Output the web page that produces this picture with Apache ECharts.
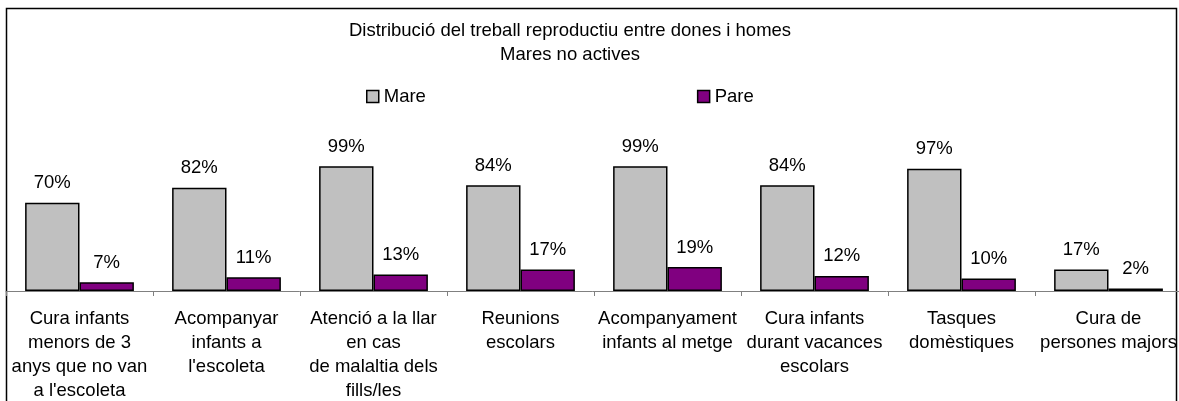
<!DOCTYPE html>
<html>
<head>
<meta charset="utf-8">
<script src="https://cdn.jsdelivr.net/npm/echarts@6/dist/echarts.min.js"></script>
<style>
	html, body { margin: 0; padding: 0; background: #fff; }
	#chart { width: 1179px; height: 401px; }
</style>
</head>
<body>
<div id="chart"></div>
<script>
// dades
var categories = [
	"Cura infants\nmenors de 3\nanys que no van\na l'escoleta",
	"Acompanyar\ninfants a\nl'escoleta",
	"Atenció a la llar\nen cas\nde malaltia dels\nfills/les",
	"Reunions\nescolars",
	"Acompanyament\ninfants al metge",
	"Cura infants\ndurant vacances\nescolars",
	"Tasques\ndomèstiques",
	"Cura de\npersones majors"
];
var mare = [70, 82, 99, 84, 99, 84, 97, 17];
var pare = [7, 11, 13, 17, 19, 12, 10, 2];

var font = "'Liberation Sans', Arial, sans-serif";
var fs = 18.5;

var myChart = echarts.init(document.getElementById("chart"));
var option = {
	animation: false,
	textStyle: { fontFamily: font },
	// títol en dues línies
	title: {
		text: "Distribució del treball reproductiu entre dones i homes\nMares no actives",
		left: 565,
		top: 14,
		textAlign: "center",
		textStyle: {
			fontFamily: font,
			fontSize: fs,
			fontWeight: "normal",
			color: "#000",
			lineHeight: 24
		}
	},
	legend: {
		left: 361,
		top: 82,
		itemWidth: 12,
		itemHeight: 12,
		itemGap: 271,
		textStyle: { fontFamily: font, fontSize: fs, color: "#000" },
		data: [
			{ name: "Mare", icon: "rect", itemStyle: { borderColor: "#000", borderWidth: 1.5 } },
			{ name: "Pare", icon: "rect", itemStyle: { borderColor: "#000", borderWidth: 1.5 } }
		]
	},
	grid: {
		left: 6,
		right: -3,
		top: 165,
		bottom: 110,
		containLabel: false,
		outerBoundsMode: "none"
	},
	xAxis: {
		type: "category",
		data: categories,
		axisLine: { lineStyle: { color: "#808080", width: 1 } },
		axisTick: { show: true, length: 5, lineStyle: { color: "#808080" } },
		axisLabel: {
			interval: 0,
			margin: 16,
			fontFamily: font,
			fontSize: fs,
			lineHeight: 24,
			color: "#000"
		}
	},
	yAxis: {
		type: "value",
		min: 0,
		max: 100,
		show: false
	},
	series: [
		{
			name: "Mare",
			type: "bar",
			data: mare,
			barGap: "0%",
			barCategoryGap: "26%",
			itemStyle: { color: "#c0c0c0", borderColor: "#000", borderWidth: 1.5 },
			label: {
				show: true,
				position: "top",
				distance: 10,
				formatter: "{c}%",
				fontFamily: font,
				fontSize: fs,
				color: "#000"
			}
		},
		{
			name: "Pare",
			type: "bar",
			data: pare,
			itemStyle: { color: "#800080", borderColor: "#000", borderWidth: 1.5 },
			label: {
				show: true,
				position: "top",
				distance: 10,
				formatter: "{c}%",
				fontFamily: font,
				fontSize: fs,
				color: "#000"
			}
		}
	],
	// marc exterior
	graphic: [
		{
			type: "rect",
			shape: { x: 6.5, y: 8.5, width: 1170, height: 400 },
			style: { fill: "none", stroke: "#000", lineWidth: 1.5 },
			silent: true
		}
	]
};
myChart.setOption(option);
</script>
</body>
</html>
